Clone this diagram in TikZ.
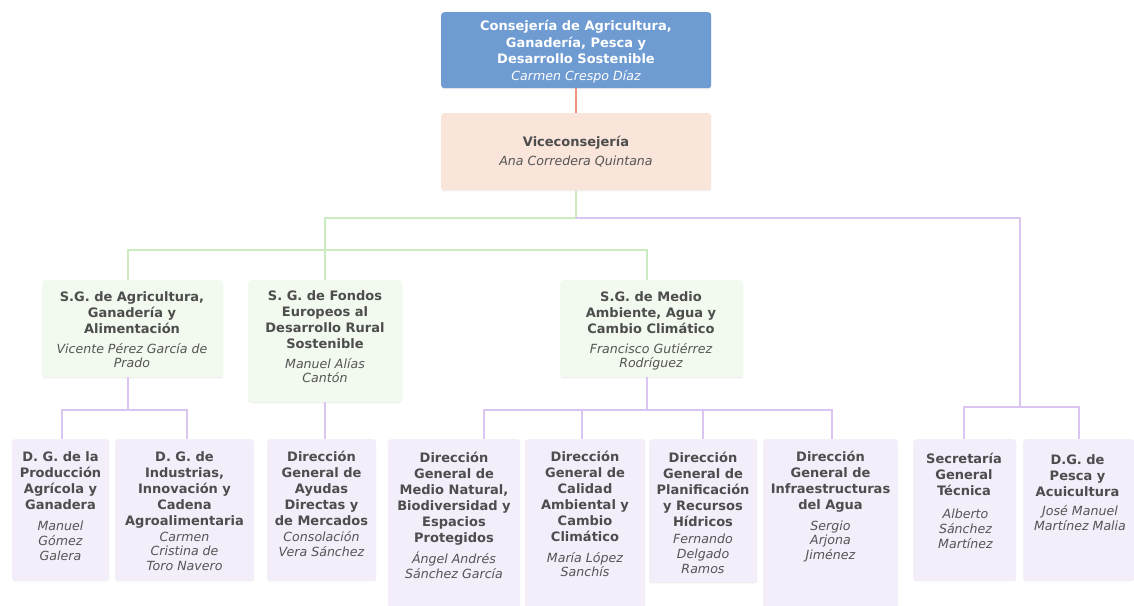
\documentclass[tikz,border=0pt]{standalone}
\usepackage{fontspec}
\setmainfont{DejaVu Sans}
\usetikzlibrary{shadows}
\definecolor{cblue}{RGB}{110,155,210}
\definecolor{cpeach}{RGB}{250,229,218}
\definecolor{cgreen}{RGB}{242,249,238}
\definecolor{cpurple}{RGB}{244,237,250}
\definecolor{lgreen}{RGB}{204,235,192}
\definecolor{lpurple}{RGB}{217,196,242}
\definecolor{lorange}{RGB}{233,150,122}
\definecolor{ctxt}{RGB}{77,77,77}
\definecolor{cname}{RGB}{85,85,85}
\tikzset{
  basebox/.style={draw=none, rounded corners=3pt, inner sep=0pt, anchor=north west,
    drop shadow={shadow xshift=0pt, shadow yshift=-1.2pt, opacity=0.12}},
  bluebox/.style={basebox, fill=cblue},
  peachbox/.style={basebox, fill=cpeach},
  greenbox/.style={basebox, fill=cgreen},
  purplebox/.style={basebox, fill=cpurple},
  ttl/.style={anchor=north, align=center, inner sep=0pt, text=ctxt,
    font=\fontsize{13}{16}\selectfont\bfseries},
  nm/.style={anchor=north, align=center, inner sep=0pt, text=cname,
    font=\fontsize{12.6}{14.7}\selectfont\itshape},
  gline/.style={draw=lgreen, line width=2pt},
  pline/.style={draw=lpurple, line width=2pt},
  oline/.style={draw=lorange, line width=2pt},
}
\begin{document}
\begin{tikzpicture}[x=1pt,y=-1pt]
\useasboundingbox (0,0) rectangle (1134,605);
\clip (0,0) rectangle (1134,605);
% ---- boxes ----
\node[bluebox, minimum width=270pt, minimum height=76pt] (cons) at (441,12) {};
\node[peachbox, minimum width=270pt, minimum height=77pt] (vice) at (441,113) {};
\node[greenbox, minimum width=181pt, minimum height=97pt] (agr) at (42,280) {};
\node[greenbox, minimum width=154pt, minimum height=122pt] (fon) at (248,280) {};
\node[greenbox, minimum width=183pt, minimum height=97pt] (mam) at (560,280) {};
\node[purplebox, minimum width=97pt, minimum height=141pt] (pro) at (12,439) {};
\node[purplebox, minimum width=139pt, minimum height=141pt] (ind) at (115,439) {};
\node[purplebox, minimum width=109pt, minimum height=141pt] (ayu) at (267,439) {};
\node[purplebox, minimum width=132pt, minimum height=180pt] (mnat) at (388,439) {};
\node[purplebox, minimum width=120pt, minimum height=180pt] (cal) at (525,439) {};
\node[purplebox, minimum width=108pt, minimum height=143pt] (pla) at (649,439) {};
\node[purplebox, minimum width=135pt, minimum height=180pt] (inf) at (763,439) {};
\node[purplebox, minimum width=103pt, minimum height=141pt] (sec) at (913,439) {};
\node[purplebox, minimum width=111pt, minimum height=141pt] (pes) at (1023,439) {};
% ---- texts ----
\node[ttl, text=white, font=\fontsize{13}{16.5}\selectfont\bfseries] (consT) at (576,20) {Consejería de Agricultura,\\Ganadería, Pesca y\\Desarrollo Sostenible};
\node[nm, text=white] (consN) at (576,70) {Carmen Crespo Díaz};
\node[ttl] (viceT) at (576,136) {Viceconsejería};
\node[nm] (viceN) at (576,156) {Ana Corredera Quintana};
\node[ttl] (agrT) at (132,291.5) {S.G. de Agricultura,\\Ganadería y\\Alimentación};
\node[nm] (agrN) at (132,343) {Vicente Pérez García de\\Prado};
\node[ttl] (fonT) at (325,290.5) {S. G. de Fondos\\Europeos al\\Desarrollo Rural\\Sostenible};
\node[nm] (fonN) at (325,358) {Manuel Alías\\Cantón};
\node[ttl] (mamT) at (651,291.5) {S.G. de Medio\\Ambiente, Agua y\\Cambio Climático};
\node[nm] (mamN) at (651,343) {Francisco Gutiérrez\\Rodríguez};
\node[ttl] (proT) at (60.5,451.5) {D. G. de la\\Producción\\Agrícola y\\Ganadera};
\node[nm] (proN) at (60.5,521) {Manuel\\Gómez\\Galera};
\node[ttl] (indT) at (184.5,451.5) {D. G. de\\Industrias,\\Innovación y\\Cadena\\Agroalimentaria};
\node[nm] (indN) at (184.5,531.5) {Carmen\\Cristina de\\Toro Navero};
\node[ttl] (ayuT) at (321.5,451) {Dirección\\General de\\Ayudas\\Directas y\\de Mercados};
\node[nm] (ayuN) at (321.5,531.5) {Consolación\\Vera Sánchez};
\node[ttl] (mnatT) at (454,452) {Dirección\\General de\\Medio Natural,\\Biodiversidad y\\Espacios\\Protegidos};
\node[nm] (mnatN) at (454,552) {Ángel Andrés\\Sánchez García};
\node[ttl] (calT) at (585,450.5) {Dirección\\General de\\Calidad\\Ambiental y\\Cambio\\Climático};
\node[nm] (calN) at (585,552) {María López\\Sanchís};
\node[ttl] (plaT) at (703,452) {Dirección\\General de\\Planificación\\y Recursos\\Hídricos};
\node[nm] (plaN) at (703,534) {Fernando\\Delgado\\Ramos};
\node[ttl] (infT) at (830.5,451) {Dirección\\General de\\Infraestructuras\\del Agua};
\node[nm] (infN) at (830.5,520.5) {Sergio\\Arjona\\Jiménez};
\node[ttl] (secT) at (964,453) {Secretaría\\General\\Técnica};
\node[nm] (secN) at (965.5,509) {Alberto\\Sánchez\\Martínez};
\node[ttl] (pesT) at (1077.5,454) {D.G. de\\Pesca y\\Acuicultura};
\node[nm] (pesN) at (1080,505.5) {José Manuel\\Martínez Malia};
% ---- junction coordinates ----
\coordinate (j1) at (576,218);
\coordinate (j2) at (325,218);
\coordinate (ga) at (128,250);
\coordinate (gb) at (647,250);
\coordinate (p1) at (1020,218);
\coordinate (p2) at (1020,407);
\coordinate (ps) at (964,407);
\coordinate (pp) at (1079,407);
\coordinate (qa) at (128,410);
\coordinate (qp) at (62,410);
\coordinate (qi) at (187,410);
\coordinate (ma) at (647,410);
\coordinate (m1) at (484,410);
\coordinate (m2) at (582,410);
\coordinate (m3) at (703,410);
\coordinate (m4) at (832,410);
\coordinate (fa) at (325,402);
% ---- connectors ----
\draw[oline] (cons.south) -- (vice.north);
\draw[gline] (vice.south) -- (j1) -- (j2) -- (fon.north);
\draw[gline] (ga |- agr.north) -- (ga) -- (gb) -- (gb |- mam.north);
\draw[pline] (j1) -- (p1) -- (p2);
\draw[pline] (ps |- sec.north) -- (ps) -- (pp) -- (pp |- pes.north);
\draw[pline] (qa |- agr.south) -- (qa);
\draw[pline] (qp |- pro.north) -- (qp) -- (qi) -- (qi |- ind.north);
\draw[pline] (fa) -- (fa |- ayu.north);
\draw[pline] (ma |- mam.south) -- (ma);
\draw[pline] (m1 |- mnat.north) -- (m1) -- (m4) -- (m4 |- inf.north);
\draw[pline] (m2) -- (m2 |- cal.north);
\draw[pline] (m3) -- (m3 |- pla.north);
\end{tikzpicture}
\end{document}
